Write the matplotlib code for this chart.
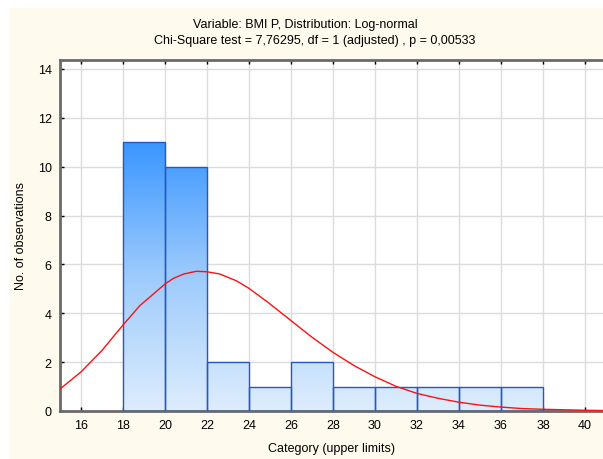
import numpy as np
import matplotlib
matplotlib.use('Agg')
from matplotlib import pyplot as plt
from matplotlib.colors import LinearSegmentedColormap

plt.rcParams['font.family'] = ['Liberation Sans', 'DejaVu Sans']

## Data ##
bin_edges = [18, 20, 22, 24, 26, 28, 30, 32, 34, 36, 38]
counts = [11, 10, 2, 1, 2, 1, 1, 1, 1, 1]

# fitted log-normal curve (expected counts), read point by point
curve_x = [15, 16, 17, 18, 18.8, 19.45, 20, 20.4, 20.9, 21.5, 22, 22.6, 23.4,
           24, 24.9, 26, 27, 28, 29, 30, 31, 32, 33, 34, 35, 36, 37, 38, 40, 40.86]
curve_y = [0.90, 1.60, 2.48, 3.52, 4.31, 4.79, 5.20, 5.43, 5.61, 5.72, 5.70,
           5.61, 5.33, 5.02, 4.45, 3.70, 3.02, 2.40, 1.86, 1.40, 1.01, 0.72,
           0.52, 0.36, 0.24, 0.16, 0.10, 0.07, 0.03, 0.02]

xticks = list(range(16, 41, 2))
yticks = list(range(0, 15, 2))

title1 = "Variable: BMI P, Distribution: Log-normal"
title2 = "Chi-Square test = 7,76295, df = 1 (adjusted) , p = 0,00533"

bg = '#fefaee'

fig = plt.figure(figsize=(6.03, 4.60), dpi=100)
fig.patch.set_facecolor('white')
# cream panel with a thin white border
fig.patches.append(plt.Rectangle((10/603, 0), 1, 1 - 9/460, transform=fig.transFigure,
                                 facecolor=bg, edgecolor='none', zorder=-10))

ax = fig.add_axes([60/603, 48/460, 1 - 60/603, 351/460])
ax.set_facecolor('white')

## bars with vertical gradient ##
widths = np.diff(bin_edges)
bars = ax.bar(bin_edges[:-1], counts, width=widths, align='edge',
              facecolor='none', edgecolor='#2458c6', linewidth=1, zorder=3)
cmap = LinearSegmentedColormap.from_list('blu', ['#deedfd', '#9ecbfc', '#3a96ff'])
grad = np.linspace(0, 1, 256).reshape(-1, 1)
for b in bars:
    x0 = b.get_x()
    im = ax.imshow(grad, extent=(x0, x0 + b.get_width(), 0, 11), origin='lower',
                   aspect='auto', cmap=cmap, zorder=2)
    im.set_clip_path(b)

ax.plot(curve_x, curve_y, color='#ff1010', lw=1, zorder=4)

ax.set_xlim(15, 15 + 543/21)
ax.set_ylim(0, 14 + 9/24.43)
ax.set_xticks(xticks)
ax.set_yticks(yticks)
ax.grid(True, color='#dcdcdc', lw=1)
ax.set_axisbelow(True)
ax.tick_params(direction='in', length=3, width=1, top=True, labelsize=9,
               colors='black', pad=6)
for s in ['left', 'bottom', 'top']:
    ax.spines[s].set_color('#6a6a6a')
    ax.spines[s].set_linewidth(2)
ax.spines['right'].set_visible(False)

ax.set_xlabel('Category (upper limits)', fontsize=9, labelpad=8)
ax.set_ylabel('No. of observations', fontsize=9, labelpad=8)

fig.text(305/603, 1 - 25/460, title1, ha='center', va='center', fontsize=9)
fig.text(315/603, 1 - 41/460, title2, ha='center', va='center', fontsize=9)

fig.savefig('out.png', dpi=100, facecolor=fig.get_facecolor())
